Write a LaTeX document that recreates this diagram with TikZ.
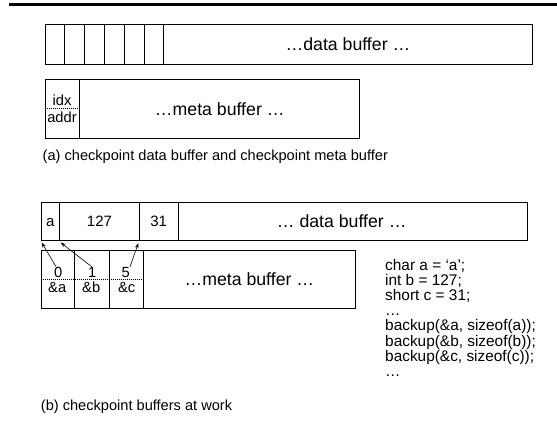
\documentclass[tikz,border=0pt]{standalone}
\usepackage{fontspec}
\setmainfont{Liberation Sans}
\usetikzlibrary{arrows.meta}
\begin{document}
\begin{tikzpicture}[x=1pt,y=-1pt,
  box/.style={draw, line width=0.9pt, inner sep=0pt, anchor=north west},
  bigtxt/.style={font=\fontsize{17.7}{20}\selectfont, text height=12.7pt, text depth=0pt},
  midtxt/.style={font=\fontsize{15}{17}\selectfont, text height=10.7pt, text depth=0pt},
  lbl/.style={font=\fontsize{14.7}{17}\selectfont, inner sep=0pt, anchor=base},
  txt/.style={inner sep=0pt, anchor=base},
  codetxt/.style={font=\fontsize{15.4}{15}\selectfont, inner sep=0pt, anchor=base west},
  captxt/.style={font=\fontsize{14.6}{17}\selectfont, inner sep=0pt, anchor=base west},
  dots/.style={line width=0.8pt, dash pattern=on 1pt off 1pt},
  arr/.style={line width=0.6pt, -{Stealth[length=5pt,width=3.5pt]}}]
\useasboundingbox (0,0) rectangle (557,434);

% top rule
\coordinate (r1) at (9,4.65);
\coordinate (r2) at (557,4.65);
\draw[line width=3.3pt] (r1) -- (r2);

% (a) data buffer
\foreach \i in {0,...,5}{
  \node[box, minimum width=19.77pt, minimum height=39.7pt] (ac\i) at ({44.7+19.77*\i},24.3) {};
}
\node[box, bigtxt, minimum width=368.4pt, minimum height=39.7pt] (adata) at (163.3,24.3) {…data buffer …};

% (a) meta buffer
\node[box, minimum width=34.6pt, minimum height=58.7pt] (aidx) at (44.7,79) {};
\node[box, bigtxt, minimum width=280pt, minimum height=58.7pt] (ameta) at (79.3,79) {…meta buffer …};
\draw[dots] (aidx.west) -- (aidx.east);
\node[lbl] (tidx) at (62,105) {idx};
\node[lbl] (taddr) at (62,122.5) {addr};

\node[captxt] (capa) at (42.5,160) {(a) checkpoint data buffer and checkpoint meta buffer};

% (b) data buffer
\node[box, midtxt, minimum width=18.8pt, minimum height=38.5pt] (d0) at (40.5,201.5) {a};
\node[box, midtxt, minimum width=79.4pt, minimum height=38.5pt] (d1) at (59.3,201.5) {127};
\node[box, midtxt, minimum width=39pt, minimum height=38.5pt] (d2) at (138.7,201.5) {31};
\node[box, minimum width=349pt, minimum height=38.5pt] (d3) at (177.7,201.5) {};
\node[txt, font=\fontsize{17.7}{20}\selectfont] (tdata) at (341.7,227) {… data buffer …};

% (b) meta buffer
\node[box, minimum width=33.8pt, minimum height=58.3pt] (m0) at (40.5,250) {};
\node[box, minimum width=34.4pt, minimum height=58.3pt] (m1) at (74.3,250) {};
\node[box, minimum width=34.6pt, minimum height=58.3pt] (m2) at (108.7,250) {};
\node[box, bigtxt, minimum width=211.2pt, minimum height=58.3pt] (m3) at (143.3,250) {…meta buffer …};
\draw[dots] (m0.west) -- (m2.east);

\node[lbl] (l0) at (58.3,277) {0};
\node[lbl] (l1) at (92.3,277) {1};
\node[lbl] (l5) at (125.7,277) {5};
\node[lbl] (la) at (57.2,292.5) {\&a};
\node[lbl] (lb) at (91.2,292.5) {\&b};
\node[lbl] (lc) at (126.7,292.5) {\&c};

\draw[arr] ([xshift=-2.3pt]l0.north) -- ([shift={(1.2,1.7)}]d0.south west);
\draw[arr] ([xshift=-0.6pt]l1.north) -- ([shift={(1.4,1.7)}]d1.south west);
\draw[arr] ([xshift=4.3pt]l5.north) -- ([shift={(-0.4,2.3)}]d2.south west);

% code
\node[codetxt] (c1) at (385,270) {char a = ‘a’;};
\node[codetxt] (c2) at (385,285.2) {int b = 127;};
\node[codetxt] (c3) at (385,300.4) {short c = 31;};
\node[codetxt] (c4) at (385,315.6) {…};
\node[codetxt] (c5) at (385,330.8) {backup(\&a, sizeof(a));};
\node[codetxt] (c6) at (385,346) {backup(\&b, sizeof(b));};
\node[codetxt] (c7) at (385,361.2) {backup(\&c, sizeof(c));};
\node[codetxt] (c8) at (385,376.4) {…};

\node[captxt] (capb) at (40.7,410) {(b) checkpoint buffers at work};
\end{tikzpicture}
\end{document}
